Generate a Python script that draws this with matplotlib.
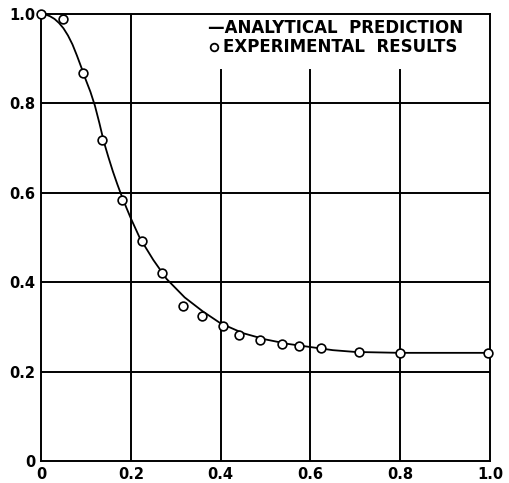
import matplotlib.pyplot as plt

# analytical curve
curve_x = [0, 0.01, 0.02, 0.03, 0.04, 0.05, 0.06, 0.07, 0.08, 0.09, 0.10, 0.11,
           0.12, 0.13, 0.14, 0.15, 0.16, 0.17, 0.18, 0.19, 0.20, 0.22, 0.25,
           0.28, 0.32, 0.36, 0.40, 0.45, 0.50, 0.55, 0.60, 0.65, 0.70, 0.80,
           0.90, 1.0]
curve_y = [1.0, 0.999, 0.995, 0.989, 0.980, 0.968, 0.952, 0.932, 0.907, 0.880,
           0.852, 0.826, 0.795, 0.756, 0.714, 0.680, 0.648, 0.619, 0.592, 0.567,
           0.543, 0.499, 0.450, 0.407, 0.366, 0.335, 0.308, 0.286, 0.272,
           0.262, 0.255, 0.248, 0.244, 0.242, 0.242, 0.242]

# experimental points
exp_x = [0, 0.049, 0.093, 0.135, 0.181, 0.224, 0.270, 0.317, 0.358, 0.406,
         0.441, 0.488, 0.537, 0.575, 0.624, 0.708, 0.80, 0.996]
exp_y = [1.0, 0.989, 0.868, 0.718, 0.584, 0.492, 0.421, 0.347, 0.324, 0.302,
         0.282, 0.271, 0.262, 0.257, 0.253, 0.244, 0.242, 0.242]

ticks = [0, 0.2, 0.4, 0.6, 0.8, 1.0]
xlabels = ['0', '0.2', '0.4', '0.6', '0.8', '1.0']
ylabels = ['0', '0.2', '0.4', '0.6', '0.8', '1.0']

fig = plt.figure(figsize=(5.09, 4.83), dpi=100)
ax = fig.add_axes([0.0806, 0.0455, 0.882, 0.9255])

# grid, vertical lines stop under the legend block
for t in ticks[1:-1]:
    ax.axhline(t, color='black', lw=1.4, zorder=1)
ax.axvline(0.2, color='black', lw=1.4, zorder=1)
for t in [0.4, 0.6, 0.8]:
    ax.axvline(t, ymax=0.875, color='black', lw=1.4, zorder=1)

ax.plot(curve_x, curve_y, color='black', lw=1.3, zorder=2)
ax.plot(exp_x, exp_y, 'o', mfc='white', mec='black', ms=6.3, mew=1.2,
        zorder=3, clip_on=False)

ax.set_xlim(0, 1.0)
ax.set_ylim(0, 1.0)
ax.set_xticks(ticks)
ax.set_xticklabels(xlabels)
ax.set_yticks(ticks)
ax.set_yticklabels(ylabels)
ax.tick_params(length=0, labelsize=10.5, pad=4)
for lab in ax.get_xticklabels() + ax.get_yticklabels():
    lab.set_fontweight('bold')
for sp in ax.spines.values():
    sp.set_linewidth(1.4)

# legend drawn as text
ax.text(0.372, 0.968, '\u2014ANALYTICAL  PREDICTION', fontsize=12,
        fontweight='bold', va='center', ha='left', transform=ax.transAxes)
ax.plot([0.385], [0.926], 'o', mfc='white', mec='black', ms=5.5, mew=1.3,
        transform=ax.transAxes)
ax.text(0.405, 0.926, 'EXPERIMENTAL  RESULTS', fontsize=12,
        fontweight='bold', va='center', ha='left', transform=ax.transAxes)

fig.savefig('out.png', dpi=100)
